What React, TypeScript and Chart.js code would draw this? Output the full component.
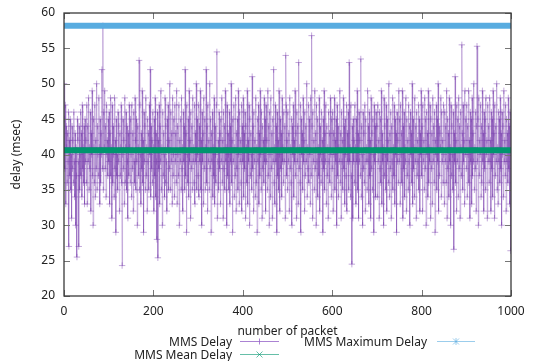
import React, { useEffect, useRef } from "react";
import { Chart, registerables } from "chart.js";

Chart.register(...registerables);

// MMS delay per packet (msec), packets 0..999
const delayValues: number[] = [
  50, 45, 38, 47, 33, 44, 41, 36, 43, 39, 46, 27, 42, 37, 45, 35, 40, 31, 44, 38, 42, 36, 46, 39, 34, 43, 30, 41, 37, 25.5, 45, 42, 39, 27, 44, 35, 40, 46, 37, 43, 34, 47, 38, 41, 36, 44, 33, 45, 39, 42,
  36, 47, 33, 44, 39, 48, 35, 41, 38, 46, 32, 43, 40, 49, 37, 30, 45, 41, 36, 47, 34, 42, 38, 50, 35, 44, 40, 37, 48, 41, 33, 45, 36, 43, 40, 52, 38, 58.2, 35, 46, 41, 49, 38, 44, 34, 47, 40, 42, 37, 45,
  39, 46, 33, 43, 48, 37, 41, 31, 47, 36, 44, 40, 34, 48, 38, 42, 29, 45, 37, 40, 35, 46, 39, 44, 32, 43, 37, 41, 47, 36, 24.3, 40, 45, 38, 42, 33, 48, 36, 41, 46, 35, 44, 39, 31, 43, 37, 47, 41, 36, 45,
  40, 34, 47, 38, 43, 32, 46, 39, 36, 48, 42, 35, 45, 39, 30, 44, 41, 37, 53.3, 35, 47, 40, 33, 43, 38, 49, 36, 42, 29, 46, 39, 44, 35, 48, 37, 41, 32, 45, 39, 43, 35, 47, 40, 52, 34, 44, 38, 42, 36, 46,
  41, 32, 45, 37, 48, 34, 43, 39, 28, 46, 25.4, 42, 38, 47, 33, 44, 39, 49, 35, 41, 30, 46, 37, 43, 40, 34, 48, 36, 44, 39, 32, 45, 41, 47, 35, 42, 38, 50, 35, 46, 39, 43, 33, 48, 37, 40, 45, 34, 47, 39,
  43, 36, 49, 33, 44, 40, 37, 47, 30, 42, 39, 45, 35, 48, 38, 41, 32, 46, 39, 44, 35, 52, 37, 43, 29, 47, 40, 36, 45, 34, 49, 39, 42, 31, 46, 38, 44, 35, 48, 39, 41, 36, 47, 33, 43, 39, 50, 35, 45, 40,
  37, 47, 34, 44, 39, 49, 35, 42, 30, 46, 39, 43, 33, 48, 38, 45, 35, 41, 52, 36, 44, 32, 47, 39, 42, 35, 50, 38, 45, 29, 43, 39, 46, 34, 41, 37, 48, 33, 44, 40, 36, 47, 54.5, 31, 39, 42, 35, 46, 38, 43,
  33, 45, 39, 48, 36, 42, 31, 46, 38, 44, 35, 49, 39, 41, 30, 47, 37, 43, 40, 35, 46, 33, 44, 39, 50, 36, 42, 29, 45, 39, 47, 34, 41, 37, 48, 32, 43, 38, 45, 35, 49, 40, 33, 46, 39, 42, 36, 47, 32, 44,
  39, 48, 34, 43, 38, 46, 31, 44, 41, 36, 49, 33, 42, 39, 47, 30, 45, 37, 43, 40, 35, 51, 38, 44, 32, 46, 39, 42, 34, 48, 36, 41, 29, 45, 39, 47, 33, 43, 37, 49, 40, 35, 46, 31, 44, 38, 42, 36, 48, 39,
  45, 32, 47, 39, 42, 35, 49, 37, 44, 30, 46, 40, 34, 48, 38, 43, 31, 45, 39, 52, 36, 41, 33, 47, 39, 44, 29, 46, 37, 42, 35, 49, 40, 32, 45, 38, 43, 34, 48, 39, 41, 36, 46, 39, 44, 31, 54, 47, 37, 42,
  35, 46, 39, 43, 32, 48, 38, 41, 36, 45, 30, 44, 40, 47, 34, 42, 39, 49, 37, 43, 31, 46, 39, 44, 33, 53, 38, 41, 36, 47, 29, 45, 40, 43, 35, 48, 39, 42, 32, 46, 37, 44, 39, 50, 34, 41, 38, 47, 36, 45,
  40, 33, 48, 37, 56.8, 44, 31, 46, 39, 42, 35, 49, 38, 43, 30, 47, 39, 45, 34, 41, 37, 48, 32, 44, 40, 36, 46, 39, 42, 29, 45, 38, 49, 35, 43, 39, 47, 33, 44, 37, 41, 31, 46, 39, 43, 36, 48, 40, 34, 45,
  38, 46, 32, 43, 40, 48, 35, 42, 39, 45, 30, 47, 37, 44, 34, 41, 39, 49, 36, 43, 31, 46, 39, 42, 35, 48, 38, 44, 33, 45, 40, 37, 47, 32, 43, 39, 46, 35, 53, 39, 41, 34, 47, 37, 24.5, 44, 31, 45, 39, 42,
  36, 47, 41, 33, 45, 39, 49, 35, 43, 31, 46, 39, 42, 37, 53.5, 34, 44, 40, 30, 46, 38, 43, 36, 47, 32, 45, 39, 41, 35, 49, 39, 44, 33, 46, 37, 42, 31, 48, 38, 43, 35, 45, 40, 29, 47, 39, 44, 34, 46, 41,
  44, 34, 47, 39, 42, 31, 46, 38, 45, 36, 49, 33, 43, 39, 41, 30, 48, 37, 44, 40, 35, 47, 32, 45, 39, 42, 36, 50, 34, 43, 38, 46, 31, 44, 39, 48, 35, 41, 37, 47, 33, 45, 40, 43, 29, 46, 39, 42, 36, 49,
  39, 45, 33, 47, 40, 43, 36, 49, 31, 44, 38, 46, 34, 41, 39, 48, 32, 45, 37, 42, 35, 47, 39, 44, 30, 46, 40, 43, 36, 50, 33, 45, 38, 41, 34, 48, 39, 44, 31, 46, 37, 42, 39, 47, 35, 45, 32, 43, 40, 49,
  37, 44, 32, 47, 39, 42, 35, 48, 38, 45, 30, 46, 40, 43, 34, 49, 36, 41, 39, 47, 31, 45, 38, 43, 33, 48, 39, 44, 36, 46, 29, 42, 40, 47, 35, 45, 39, 50, 32, 44, 37, 43, 41, 48, 34, 46, 39, 42, 36, 47,
  40, 33, 46, 39, 44, 36, 49, 31, 45, 38, 43, 34, 48, 39, 41, 30, 47, 37, 44, 40, 35, 46, 26.6, 43, 39, 51, 36, 42, 32, 47, 39, 45, 34, 48, 38, 44, 31, 46, 41, 37, 55.5, 43, 35, 47, 39, 42, 33, 49, 40, 45,
  38, 47, 34, 44, 40, 49, 36, 42, 31, 46, 39, 45, 33, 48, 37, 43, 39, 50, 35, 41, 38, 46, 32, 44, 55.3, 39, 45, 30, 48, 37, 42, 40, 47, 34, 44, 36, 49, 39, 43, 32, 46, 38, 45, 35, 48, 40, 42, 31, 47, 39,
  44, 36, 48, 39, 42, 32, 46, 38, 45, 34, 49, 40, 43, 31, 47, 37, 44, 39, 50, 35, 41, 33, 46, 39, 45, 36, 48, 38, 43, 30, 46, 40, 44, 34, 49, 39, 42, 37, 47, 32, 45, 39, 43, 36, 48, 38, 44, 33, 46, 26.4,
];

const maxDelay = 58.2;
const meanDelay = 40.6;
const xRange: number[] = [0, 1000];
const xTickValues: number[] = [0, 200, 400, 600, 800, 1000];
const yTickValues: number[] = [20, 25, 30, 35, 40, 45, 50, 55, 60];

const seriesNames: string[] = ["MMS Delay", "MMS Mean Delay", "MMS Maximum Delay"];

const PURPLE_LINE = "rgba(120, 62, 172, 0.34)";
const PURPLE_MARK = "rgba(120, 62, 172, 0.45)";
const PURPLE_LEG = "rgba(150, 100, 200, 0.8)";
const GREEN = "#00956e";
const BLUE = "#58ace0";
const FONT = '"Noto Sans", sans-serif';

const decorPlugin = {
  id: "decor",
  afterDraw(chart: any) {
    const { ctx, chartArea: a, scales } = chart;
    ctx.save();
    const line = (x1: number, y1: number, x2: number, y2: number) => {
      ctx.beginPath();
      ctx.moveTo(x1, y1);
      ctx.lineTo(x2, y2);
      ctx.stroke();
    };
    // inside tick marks (mirrored)
    ctx.strokeStyle = "#777";
    ctx.lineWidth = 1;
    for (const v of xTickValues) {
      const px = Math.round(scales.x.getPixelForValue(v)) + 0.5;
      line(px, a.bottom, px, a.bottom - 6);
      line(px, a.top, px, a.top + 6);
    }
    for (const v of yTickValues) {
      const py = Math.round(scales.y.getPixelForValue(v)) + 0.5;
      line(a.left, py, a.left + 6, py);
      line(a.right, py, a.right - 6, py);
    }
    // border box
    ctx.strokeStyle = "#3a3a3a";
    ctx.lineWidth = 1.3;
    ctx.strokeRect(a.left, a.top, a.right - a.left, a.bottom - a.top);

    ctx.fillStyle = "#222";
    ctx.font = `12px ${FONT}`;
    // x axis title
    ctx.textAlign = "center";
    ctx.textBaseline = "alphabetic";
    ctx.fillText("number of packet", (a.left + a.right) / 2, 335);
    // y axis title
    ctx.save();
    ctx.translate(20, (a.top + a.bottom) / 2);
    ctx.rotate(-Math.PI / 2);
    ctx.fillText("delay (msec)", 0, 0);
    ctx.restore();

    // legend
    ctx.textAlign = "right";
    ctx.fillText(seriesNames[0], 232, 345.5);
    ctx.fillText(seriesNames[2], 427, 345.5);
    ctx.fillText(seriesNames[1], 232, 358.5);

    ctx.lineWidth = 1;
    // MMS Delay sample
    ctx.strokeStyle = PURPLE_LEG;
    line(240, 341.5, 279, 341.5);
    line(259.5, 338.5, 259.5, 344.5);
    // Max sample
    ctx.strokeStyle = "rgba(88,172,224,0.6)";
    line(437, 341.5, 475, 341.5);
    line(453, 338.5, 459, 344.5);
    line(459, 338.5, 453, 344.5);
    line(456, 338, 456, 345);
    // Mean sample
    ctx.strokeStyle = "rgba(0,149,110,0.6)";
    line(240, 354.5, 279, 354.5);
    line(256.5, 351.5, 262.5, 357.5);
    line(262.5, 351.5, 256.5, 357.5);
    ctx.restore();
  },
};

export default function App() {
  const canvasRef = useRef<HTMLCanvasElement | null>(null);

  useEffect(() => {
    document.body.style.margin = "0";
    const canvas = canvasRef.current;
    if (!canvas) return;
    const delayPoints = delayValues.map((v, i) => ({ x: i, y: v }));
    const maxPoints = xRange.map((x) => ({ x, y: maxDelay }));
    const meanPoints = xRange.map((x) => ({ x, y: meanDelay }));

    const chart = new Chart(canvas, {
      type: "line",
      data: {
        datasets: [
          {
            label: seriesNames[2],
            data: maxPoints,
            borderColor: BLUE,
            borderWidth: 6,
            pointRadius: 0,
            order: 1,
          },
          {
            label: seriesNames[1],
            data: meanPoints,
            borderColor: GREEN,
            borderWidth: 6,
            pointRadius: 0,
            order: 2,
          },
          {
            label: seriesNames[0],
            data: delayPoints,
            borderColor: PURPLE_LINE,
            borderWidth: 1,
            pointStyle: "cross",
            pointRadius: 3.2,
            pointBorderWidth: 1,
            pointBorderColor: PURPLE_MARK,
            pointBackgroundColor: PURPLE_MARK,
            tension: 0,
            order: 3,
          },
        ],
      },
      options: {
        animation: false,
        responsive: false,
        events: [],
        layout: { padding: { top: 13, right: 23, left: 0, bottom: 0 } },
        plugins: {
          legend: { display: false },
          tooltip: { enabled: false },
          title: { display: false },
        },
        scales: {
          x: {
            type: "linear",
            min: 0,
            max: 1000,
            grid: { display: false, drawTicks: false },
            border: { display: false },
            ticks: {
              stepSize: 200,
              padding: 8,
              color: "#222",
              font: { family: FONT, size: 12 },
              maxRotation: 0,
              callback: (v: any) => String(v),
            },
            afterFit: (s: any) => {
              s.height = 65;
              s.paddingLeft = 0;
              s.paddingRight = 0;
            },
          },
          y: {
            type: "linear",
            min: 20,
            max: 60,
            grid: { display: false, drawTicks: false },
            border: { display: false },
            ticks: {
              stepSize: 5,
              padding: 9,
              color: "#222",
              font: { family: FONT, size: 12 },
              callback: (v: any) => String(v),
            },
            afterFit: (s: any) => {
              s.width = 64;
              s.paddingTop = 0;
              s.paddingBottom = 0;
            },
          },
        },
      },
      plugins: [decorPlugin],
    });
    return () => chart.destroy();
  }, []);

  return (
    <div style={{ width: 534, height: 361 }}>
      <canvas ref={canvasRef} width={534} height={361} style={{ display: "block" }} />
    </div>
  );
}
